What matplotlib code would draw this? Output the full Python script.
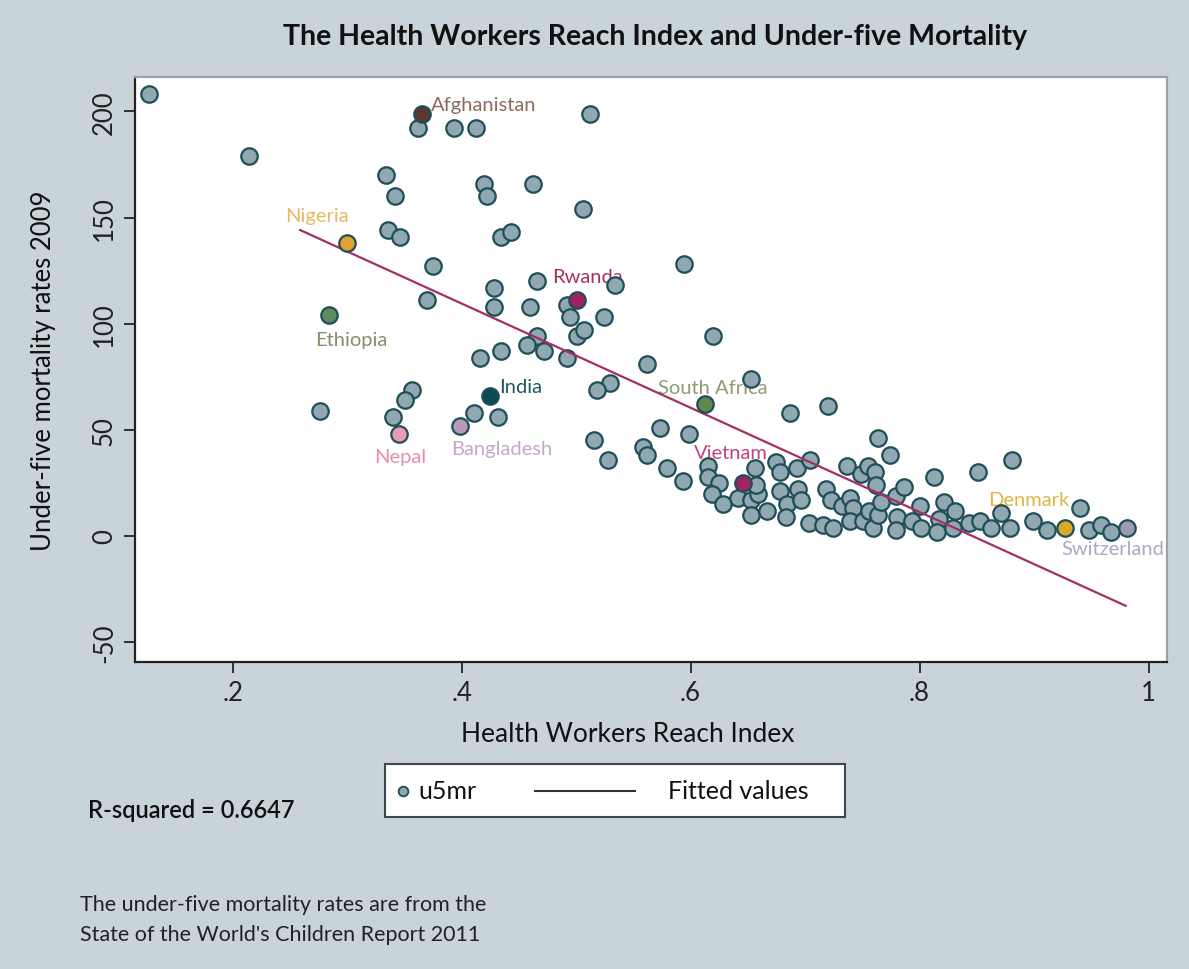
import numpy as np
import matplotlib
matplotlib.use("Agg")
import matplotlib.pyplot as plt
from matplotlib.lines import Line2D
from matplotlib.patches import Rectangle

plt.rcParams['font.family'] = ['Lato', 'DejaVu Sans']

# ------------------------------
# Data: Health Workers Reach Index vs under-five mortality (2009)
# ------------------------------
hwri = [
    0.127, 0.214, 0.362, 0.393, 0.413, 0.512, 0.334, 0.420, 0.462, 0.342,
    0.422, 0.506, 0.336, 0.346, 0.434, 0.443, 0.375, 0.594, 0.466, 0.534,
    0.370, 0.428, 0.428, 0.460, 0.492, 0.495, 0.524, 0.620, 0.466, 0.457,
    0.472, 0.434, 0.416, 0.492, 0.501, 0.507, 0.562, 0.653, 0.530, 0.518,
    0.357, 0.351, 0.276, 0.340, 0.411, 0.432, 0.516, 0.528, 0.687, 0.720,
    0.573, 0.599, 0.558, 0.562, 0.579, 0.593, 0.615, 0.615, 0.625, 0.656,
    0.619, 0.628, 0.641, 0.653, 0.659, 0.657, 0.653, 0.667, 0.675, 0.678,
    0.693, 0.704, 0.678, 0.684, 0.694, 0.696, 0.683, 0.703, 0.716, 0.724,
    0.718, 0.723, 0.737, 0.732, 0.739, 0.742, 0.739, 0.749, 0.755, 0.761,
    0.762, 0.764, 0.774, 0.751, 0.756, 0.759, 0.764, 0.766, 0.779, 0.786,
    0.780, 0.779, 0.793, 0.801, 0.800, 0.813, 0.817, 0.821, 0.815, 0.829,
    0.831, 0.843, 0.851, 0.853, 0.862, 0.871, 0.879, 0.881, 0.899, 0.911,
    0.940, 0.948, 0.958, 0.967,
]
u5mr = [
    208, 179, 192, 192, 192, 199, 170, 166, 166, 160,
    160, 154, 144, 141, 141, 143, 127, 128, 120, 118,
    111, 117, 108, 108, 109, 103, 103, 94, 94, 90,
    87, 87, 84, 84, 94, 97, 81, 74, 72, 69,
    69, 64, 59, 56, 58, 56, 45, 36, 58, 61,
    51, 48, 42, 38, 32, 26, 33, 28, 25, 32,
    20, 15, 18, 17, 20, 24, 10, 12, 35, 30,
    32, 36, 21, 15, 22, 17, 9, 6, 5, 4,
    22, 17, 33, 14, 18, 13, 7, 29, 33, 30,
    24, 46, 38, 7, 12, 4, 10, 16, 19, 23,
    9, 3, 7, 4, 14, 28, 8, 16, 2, 4,
    12, 6, 30, 7, 4, 11, 4, 36, 7, 3,
    13, 3, 5, 2,
]

# highlighted countries
countries = ["Afghanistan", "Nigeria", "Ethiopia", "Rwanda", "India", "Nepal",
             "Bangladesh", "South Africa", "Vietnam", "Denmark", "Switzerland"]
country_hwri = [0.365, 0.300, 0.284, 0.501, 0.425, 0.345, 0.399, 0.613, 0.646, 0.927, 0.981]
country_u5mr = [199, 138, 104, 111, 66, 48, 52, 62, 25, 4, 4]
marker_colors = ["#5b3a2b", "#e0a231", "#5e8a5c", "#a0215f", "#0b4a4f", "#ea9bb6",
                 "#b89ab9", "#5e8a50", "#9f2363", "#dba92a", "#9b9bb3"]
label_colors = ["#8c6b5b", "#e4ba62", "#8a8b6b", "#a3315f", "#1d5a5e", "#e68fac",
                "#c3a9c6", "#8f9a70", "#c0457c", "#e1b449", "#afa7c3"]
# label offsets in points (dx, dy) and horizontal alignment
label_offsets = [(7, 6.5), (-22, 19.5), (16.5, -17.5), (7, 17), (6.5, 7), (1, -16),
                 (30, -16.5), (5, 12), (-9, 22), (-26, 20), (-10, -15)]
label_ha = ["left", "center", "center", "center", "left", "center",
            "center", "center", "center", "center", "center"]

# linear fit drawn over the regression sample range
fit_intercept = 207.7
fit_slope = -245.5
fit_range = [0.259, 0.980]
r_squared = 0.6647

xticks = [0.2, 0.4, 0.6, 0.8, 1.0]
xtick_labels = [".2", ".4", ".6", ".8", "1"]
yticks = [-50, 0, 50, 100, 150, 200]

# ------------------------------
# Styling
# ------------------------------
bg = "#c9d3da"
dot_fill = "#8fa8b1"
dot_edge = "#1f4d58"
fit_color = "#a3305f"
W, H = 1189, 970

fig = plt.figure(figsize=(W / 100, H / 100), dpi=100, facecolor=bg)
ax = fig.add_axes([135 / W, 1 - 663 / H, (1167 - 135) / W, (663 - 78) / H])
ax.set_facecolor("white")

# scatter of all countries
ax.scatter(hwri, u5mr, s=140, c=dot_fill, edgecolors=dot_edge, linewidths=1.6, zorder=3)

# fitted values line
fx = np.array(fit_range)
ax.plot(fx, fit_intercept + fit_slope * fx, color=fit_color, lw=1.6, zorder=4)

# highlighted countries with labels
for name, x, y, mc, lc, off, ha in zip(countries, country_hwri, country_u5mr,
                                        marker_colors, label_colors, label_offsets, label_ha):
    ax.scatter([x], [y], s=140, c=mc, edgecolors=dot_edge, linewidths=1.6, zorder=5)
    ax.annotate(name, (x, y), xytext=off, textcoords="offset points",
                ha=ha, va="center", fontsize=14.5, color=lc, zorder=2)

ax.set_xlim((135 - 3.6) / 1145, (1167 - 3.6) / 1145)
ax.set_ylim((537 - 663) / 2.123, (537 - 78) / 2.123)

ax.set_xticks(xticks)
ax.set_xticklabels(xtick_labels)
ax.set_yticks(yticks)
ax.set_yticklabels([str(v) for v in yticks], rotation=90, va="center")
ax.tick_params(axis="both", direction="out", length=8, width=1.3, colors="#222222",
               labelsize=18.5, pad=5)

for side in ["left", "bottom"]:
    ax.spines[side].set_color("#222222")
    ax.spines[side].set_linewidth(1.6)
for side in ["top", "right"]:
    ax.spines[side].set_color("#9aa3ab")
    ax.spines[side].set_linewidth(1.6)

ax.set_xlabel("Health Workers Reach Index", fontsize=19, color="#111111")
ax.xaxis.set_label_coords((628 - 135) / (1167 - 135), -0.1)
ax.set_ylabel("Under-five mortality rates 2009", fontsize=18.5, color="#111111")
ax.yaxis.set_label_coords(-0.077, 0.5)

fig.text(655 / W, 1 - 37 / H, "The Health Workers Reach Index and Under-five Mortality",
         ha="center", va="center", fontsize=20.5, fontweight="bold", color="#111111")

# legend box
fig.patches.append(Rectangle((385 / W, 1 - 818 / H), 460 / W, 53 / H, transform=fig.transFigure,
                             facecolor="white", edgecolor="#3b4850", lw=1.5))
fig.add_artist(Line2D([403 / W], [1 - 792 / H], transform=fig.transFigure, ls="",
                      marker="o", markersize=7, markerfacecolor=dot_fill,
                      markeredgecolor=dot_edge, markeredgewidth=1.3))
fig.text(418 / W, 1 - 792 / H, "u5mr", ha="left", va="center", fontsize=18, color="#111111")
fig.add_artist(Line2D([535 / W, 635 / W], [1 - 792 / H, 1 - 792 / H],
                      transform=fig.transFigure, color="#333333", lw=1.5))
fig.text(668 / W, 1 - 792 / H, "Fitted values", ha="left", va="center", fontsize=18,
         color="#111111")

fig.text(88 / W, 1 - 810 / H, f"R-squared = {r_squared:.4f}", ha="left", va="center",
         fontsize=17, fontweight="semibold", color="#111111")
fig.text(80 / W, 1 - 920 / H,
         "The under-five mortality rates are from the\nState of the World's Children Report 2011",
         ha="left", va="center", fontsize=15.5, color="#222222", linespacing=1.6)

fig.savefig("out.png", dpi=100, facecolor=bg)
